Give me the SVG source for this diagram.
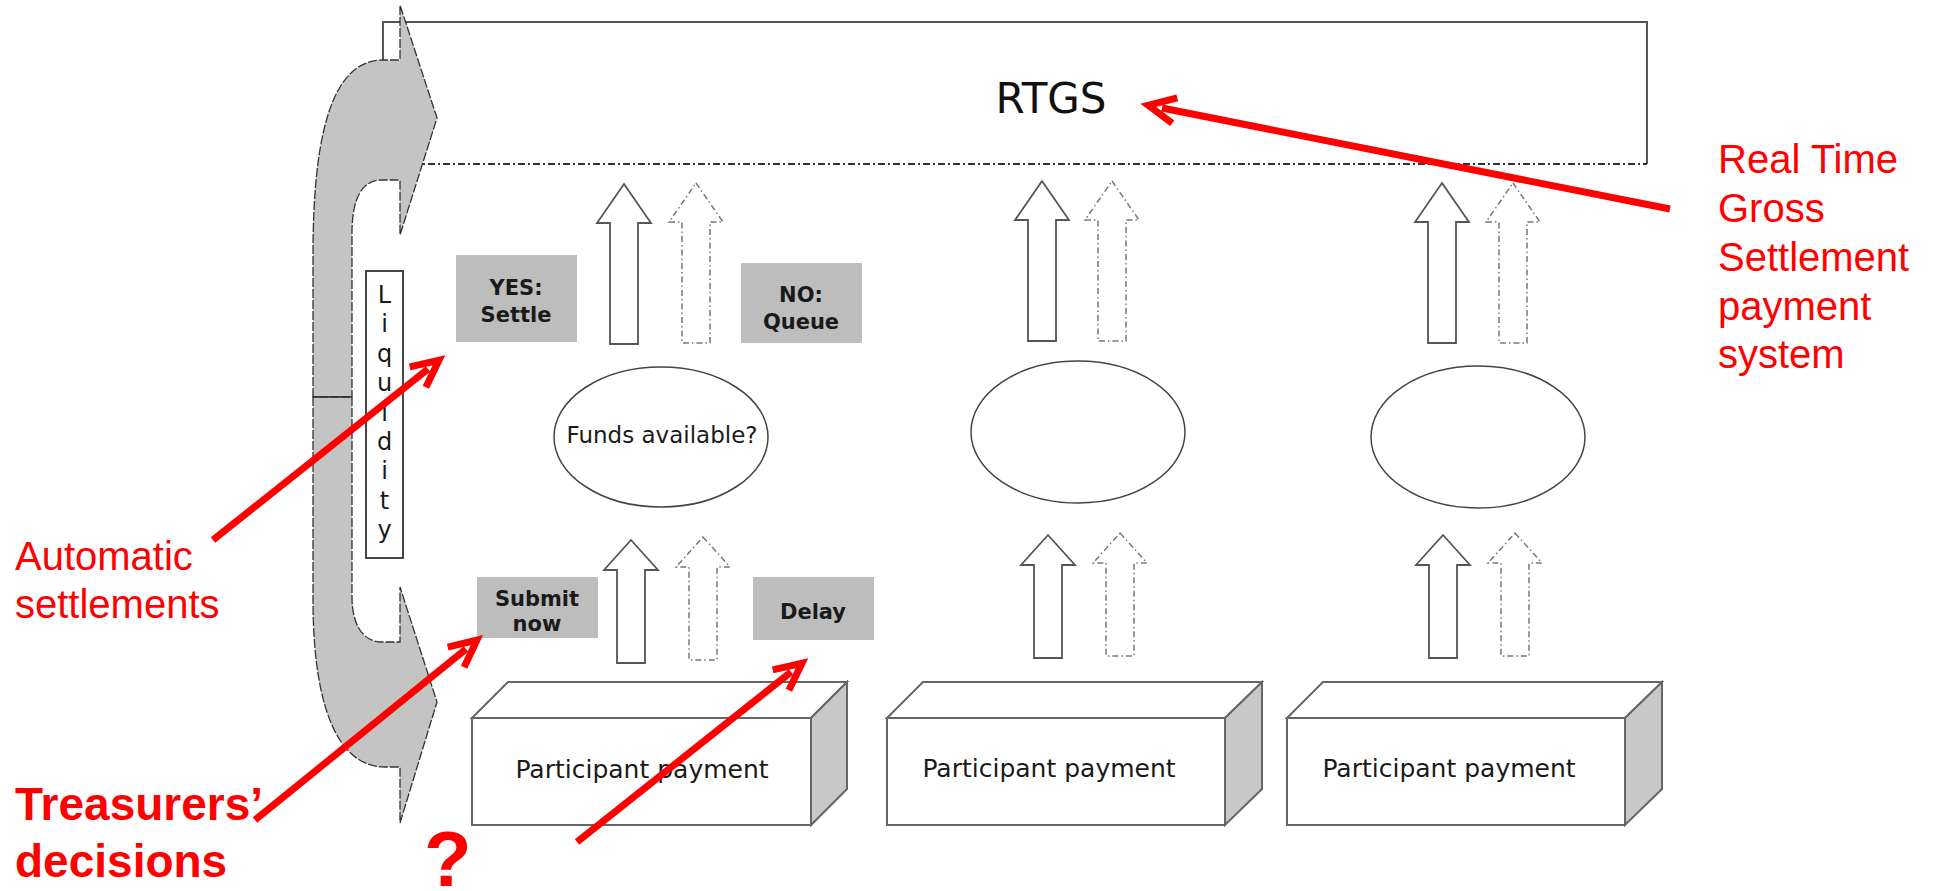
<svg xmlns="http://www.w3.org/2000/svg" width="1935" height="891" viewBox="0 0 1935 891">
<style>
.box{fill:#fff;stroke:#666;stroke-width:2}
.side{fill:#c8c8c8;stroke:#666;stroke-width:2}
.gbox{fill:#bdbdbd;stroke:none}
.gt{font-family:"DejaVu Sans",Verdana,sans-serif;font-weight:bold;font-size:21px;fill:#1a1a1a;text-anchor:middle}
.pt{font-family:"DejaVu Sans",Verdana,sans-serif;font-size:25px;fill:#1a1a1a;text-anchor:middle}
.ft{font-family:"DejaVu Sans",Verdana,sans-serif;font-size:23px;fill:#1a1a1a;text-anchor:middle}
.lq{font-family:"DejaVu Sans",Verdana,sans-serif;font-size:24px;fill:#1a1a1a;text-anchor:middle}
.ell{fill:#fff;stroke:#444;stroke-width:1.5}
.ua{fill:#fff;stroke:#555;stroke-width:1.8}
.da{fill:#fff;stroke:#777;stroke-width:1.5;stroke-dasharray:6 3 1.5 3}
.liq{fill:#c4c4c4;stroke:#333;stroke-width:1.3;stroke-dasharray:9 2}
.red{stroke:#ff0000;stroke-width:7;fill:none;marker-end:url(#chev)}
.rt{font-family:"Liberation Sans",Arial,sans-serif;font-size:40px;fill:#ff0000}
.rb{font-family:"Liberation Sans",Arial,sans-serif;font-size:46px;font-weight:bold;fill:#ff0000}
</style>
<defs>
<marker id="chev" markerUnits="userSpaceOnUse" orient="auto" refX="0" refY="0" markerWidth="60" markerHeight="60" overflow="visible">
<path d="M-13,-13 L14,0 L-13,13" fill="none" stroke="#ff0000" stroke-width="7"/>
</marker>
<path id="upLong" d="M0,0 L27,39 L14,39 L14,160 L-14,160 L-14,39 L-27,39 Z"/>
<path id="upShort" d="M0,0 L27,30 L14,30 L14,123 L-14,123 L-14,30 L-27,30 Z"/>
</defs>
<rect width="1935" height="891" fill="#fff"/>

<g id="rtgs">
<rect x="383" y="22" width="1264" height="142" fill="#fff" stroke="none"/>
<path d="M383,60 L383,22 L1647,22 L1647,164" fill="none" stroke="#555" stroke-width="2"/>
<line x1="383" y1="164" x2="1647" y2="164" stroke="#333" stroke-width="1.8" stroke-dasharray="7 3 2 3"/>
<text x="1051" y="113" font-family="DejaVu Sans, Verdana, sans-serif" font-size="42" fill="#111" text-anchor="middle">RTGS</text>
</g>

<g id="liquidity-arrow">
<path class="liq" d="M313,397 L313,255 C313,140 330,60 383,60 L400,60 L400,5 L437,118 L400,235 L400,180 L382,180 C362,180 352,198 352,233 L352,397 Z"/>
<path class="liq" d="M313,397 L313,600 C313,700 335,767 385,767 L400,767 L400,823 L437,702 L400,587 L400,642 L382,642 C363,642 352,625 352,597 L352,397 Z"/>
<line x1="313" y1="397" x2="352" y2="397" stroke="#333" stroke-width="1.5"/>
</g>

<g id="liquidity-label">
<rect x="366" y="271" width="37" height="287" fill="#fff" stroke="#333" stroke-width="1.8"/>
<text class="lq" x="384.5" y="303">L</text>
<text class="lq" x="384.5" y="332">i</text>
<text class="lq" x="384.5" y="362">q</text>
<text class="lq" x="384.5" y="391">u</text>
<text class="lq" x="384.5" y="421">i</text>
<text class="lq" x="384.5" y="450">d</text>
<text class="lq" x="384.5" y="479">i</text>
<text class="lq" x="384.5" y="509">t</text>
<text class="lq" x="384.5" y="538">y</text>
</g>

<g id="yes-settle">
<rect class="gbox" x="456" y="255" width="121" height="87"/>
<text class="gt" x="516" y="295">YES:</text>
<text class="gt" x="516" y="322">Settle</text>
</g>
<g id="no-queue">
<rect class="gbox" x="741" y="263" width="121" height="80"/>
<text class="gt" x="801" y="302">NO:</text>
<text class="gt" x="801" y="329">Queue</text>
</g>
<g id="submit-now">
<rect class="gbox" x="477" y="577" width="121" height="61"/>
<text class="gt" x="537" y="606">Submit</text>
<text class="gt" x="537" y="631">now</text>
</g>
<g id="delay">
<rect class="gbox" x="753" y="577" width="121" height="63"/>
<text class="gt" x="813" y="619">Delay</text>
</g>

<g id="decision-1">
<ellipse class="ell" cx="661" cy="437" rx="107" ry="70"/>
<text class="ft" x="662" y="443">Funds available?</text>
</g>
<g id="decision-2">
<ellipse class="ell" cx="1078" cy="432" rx="107" ry="71"/>
</g>
<g id="decision-3">
<ellipse class="ell" cx="1478" cy="437" rx="107" ry="71"/>
</g>

<g id="payment-1">
<path class="box" d="M472,718 L508,682 L847,682 L811,718 Z"/>
<path class="side" d="M811,718 L847,682 L847,789 L811,825 Z"/>
<rect class="box" x="472" y="718" width="339" height="107"/>
<text class="pt" x="642" y="778">Participant payment</text>
</g>
<g id="payment-2">
<path class="box" d="M887,718 L923,682 L1262,682 L1225,718 Z"/>
<path class="side" d="M1225,718 L1262,682 L1262,789 L1225,825 Z"/>
<rect class="box" x="887" y="718" width="338" height="107"/>
<text class="pt" x="1049" y="777">Participant payment</text>
</g>
<g id="payment-3">
<path class="box" d="M1287,718 L1323,682 L1662,682 L1625,718 Z"/>
<path class="side" d="M1625,718 L1662,682 L1662,789 L1625,825 Z"/>
<rect class="box" x="1287" y="718" width="338" height="107"/>
<text class="pt" x="1449" y="777">Participant payment</text>
</g>

<g id="connectors">
<use href="#upLong" class="ua" x="624" y="184"/>
<use href="#upLong" class="da" x="696" y="183"/>
<use href="#upLong" class="ua" x="1042" y="181"/>
<use href="#upLong" class="da" x="1112" y="181"/>
<use href="#upLong" class="ua" x="1442" y="183"/>
<use href="#upLong" class="da" x="1513" y="183"/>
<use href="#upShort" class="ua" x="631" y="540"/>
<use href="#upShort" class="da" x="703" y="537"/>
<use href="#upShort" class="ua" x="1048" y="535"/>
<use href="#upShort" class="da" x="1120" y="533"/>
<use href="#upShort" class="ua" x="1443" y="535"/>
<use href="#upShort" class="da" x="1515" y="533"/>
<line class="red" x1="1670" y1="209" x2="1162" y2="108"/>
<line class="red" x1="213" y1="540" x2="428" y2="369"/>
<line class="red" x1="255" y1="820" x2="466" y2="649"/>
<line class="red" x1="577" y1="842" x2="791" y2="672"/>
</g>

<g id="annotations">
<text class="rt" x="1718" y="173">Real Time</text>
<text class="rt" x="1718" y="222">Gross</text>
<text class="rt" x="1718" y="271">Settlement</text>
<text class="rt" x="1718" y="320">payment</text>
<text class="rt" x="1718" y="368">system</text>
<text class="rt" x="15" y="570">Automatic</text>
<text class="rt" x="15" y="618">settlements</text>
<text class="rb" x="15" y="820">Treasurers’</text>
<text class="rb" x="15" y="877">decisions</text>
<text x="424" y="886" font-family="Liberation Sans, Arial, sans-serif" font-size="78" font-weight="bold" fill="#ff0000">?</text>
</g>
</svg>
